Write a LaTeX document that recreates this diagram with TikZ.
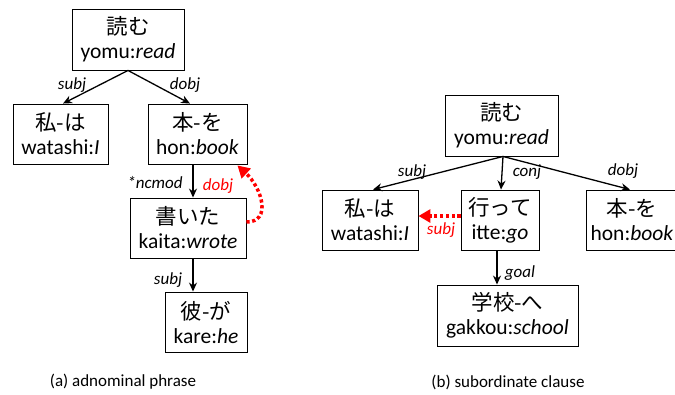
\documentclass[tikz,border=0pt]{standalone}
\usepackage{fontspec}
\setmainfont{Carlito}
\newfontfamily\jp{Noto Sans CJK JP}
\usetikzlibrary{arrows.meta,calc}
\begin{document}
\begin{tikzpicture}[x=1pt,y=-1pt,
  box/.style={draw,line width=0.9pt,inner sep=0pt,align=center,
    font=\fontsize{21.5}{24}\selectfont,minimum height=60},
  arr/.style={line width=1.3pt,-{Stealth[length=9,width=8]}},
  redarr/.style={red,line width=3.5pt,dash pattern=on 3.2pt off 2.6pt,
    -{Triangle[length=12,width=13]}},
  lab/.style={font=\fontsize{17}{18}\selectfont\itshape,inner sep=0pt},
  redlab/.style={lab,text=red},
  captext/.style={font=\fontsize{17}{20}\selectfont,inner sep=0pt}]
\useasboundingbox (0,0) rectangle (675,394);
% left tree
\node[box,minimum width=112,minimum height=61] (L0) at (128,39.5) {{\jp 読む}\\yomu:\textit{read}};
\node[box,minimum width=95] (L1) at (60.5,134) {{\jp 私-は}\\watashi:\textit{I}};
\node[box,minimum width=99] (L2) at (197.5,134) {{\jp 本-を}\\hon:\textit{book}};
\node[box,minimum width=116] (L3) at (188,228) {{\jp 書いた}\\kaita:\textit{wrote}};
\node[box,minimum width=82] (L4) at (206,322) {{\jp 彼-が}\\kare:\textit{he}};
\draw[arr] (L0.south) -- (L1.north -| 63,0) node[lab] at (72,85) {subj};
\draw[arr] (L0.south) -- (L2.north -| 190,0) node[lab] at (185,85) {dobj};
\draw[arr] (L2.south -| 193,0) -- (L3.north -| 193,0) node[lab] at (155,183) {*ncmod};
\draw[arr] (L3.south -| 193,0) -- (L4.north -| 193,0) node[lab] at (168,280) {subj};
\draw[redarr] ($(L3.east)+(0,-6)$) .. controls (272,222) and (262,188) .. ($(L2.south east)+(-10,1)$);
\node[redlab] (Ld) at (218,186) {dobj};
% right tree
\node[box,minimum width=113,minimum height=61] (R0) at (501.5,125.5) {{\jp 読む}\\yomu:\textit{read}};
\node[box,minimum width=96] (R1) at (370,220) {{\jp 私-は}\\watashi:\textit{I}};
\node[box,minimum width=78] (R2) at (500,220) {{\jp 行って}\\itte:\textit{go}};
\node[box,minimum width=92] (R3) at (632,220) {{\jp 本-を}\\hon:\textit{book}};
\node[box,minimum width=141,minimum height=61] (R4) at (507.5,315.5) {{\jp 学校-へ}\\gakkou:\textit{school}};
\coordinate (Rtop) at ($(R0.south)+(1.5,0)$);
\draw[arr] (Rtop) -- (R1.north -| 373,0) node[lab] at (412,172) {subj};
\draw[arr] (Rtop) -- (R2.north -| 501,0) node[lab] at (527,172) {conj};
\draw[arr] (Rtop) -- (R3.north -| 630,0) node[lab] at (623,171) {dobj};
\draw[arr] (R2.south -| 497,0) -- (R4.north -| 497,0) node[lab] at (520,273) {goal};
\draw[redarr] ($(R2.west)+(0,-4)$) -- ($(R1.east)+(0,-4)$);
\node[redlab] (Rs) at (441,230) {subj};
% captions
\node[captext] (ca) at (123,382) {(a) adnominal phrase};
\node[captext] (cb) at (508,382) {(b) subordinate clause};
\end{tikzpicture}
\end{document}
